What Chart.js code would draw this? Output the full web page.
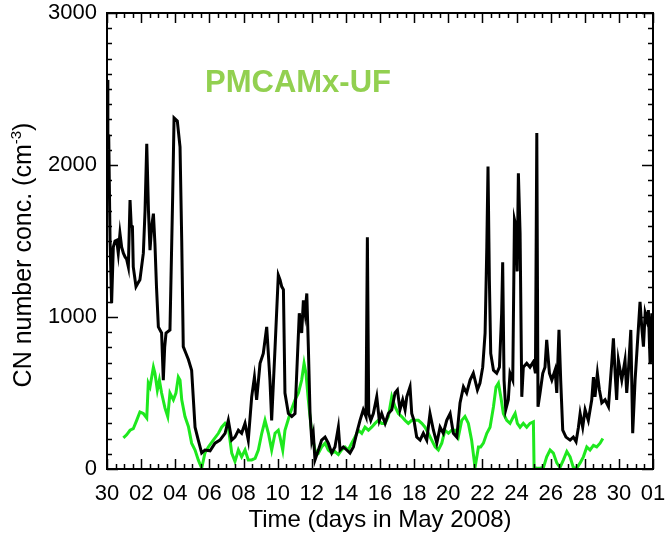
<!DOCTYPE html>
<html>
<head>
<meta charset="utf-8">
<script src="https://cdn.jsdelivr.net/npm/chart.js@4.4.1/dist/chart.umd.min.js"></script>
<style>
  html, body { margin: 0; padding: 0; background: #fff; }
  canvas { display: block; }
</style>
</head>
<body>
<canvas id="chart" width="665" height="534"></canvas>
<script>
// days since 30 April 2008, 00:00
const dayTickLabels = ['30', '02', '04', '06', '08', '10', '12', '14', '16', '18', '20', '22', '24', '26', '28', '30', '01'];
const yTickValues = [0, 1000, 2000, 3000];

// measured CN (black)
const obsDays = [0.00, 0.05, 0.10, 0.18, 0.27, 0.37, 0.47, 0.57, 0.66, 0.76, 0.86, 0.96, 1.06, 1.15, 1.25, 1.35, 1.42, 1.49, 1.54, 1.70, 1.80, 1.93,
  2.13, 2.23, 2.33, 2.43, 2.52, 2.62, 2.72, 2.81, 2.90, 3.01, 3.20, 3.30, 3.38, 3.46, 3.69, 3.85, 3.93, 4.12, 4.28, 4.38, 4.47, 4.63, 4.77, 4.96,
  5.16, 5.35, 5.55, 5.74, 6.04, 6.33, 6.62, 6.92, 7.11, 7.31, 7.50, 7.70, 7.89, 8.09, 8.28, 8.48, 8.64, 8.77, 8.97, 9.16, 9.36, 9.55, 9.65, 9.85,
  10.04, 10.14, 10.24, 10.34, 10.43, 10.63, 10.83, 11.02, 11.12, 11.27, 11.41, 11.51, 11.61, 11.71, 11.80, 11.90, 12.00, 12.09, 12.19, 12.39,
  12.58, 12.78, 12.97, 13.17, 13.36, 13.56, 13.66, 13.85, 14.05, 14.24, 14.44, 14.63, 14.83, 15.02, 15.18, 15.26, 15.34, 15.46, 15.61, 15.81,
  15.96, 16.10, 16.30, 16.49, 16.69, 16.88, 17.02, 17.17, 17.33, 17.47, 17.57, 17.76, 17.86, 17.99, 18.15, 18.35, 18.54, 18.74, 18.93, 19.13,
  19.33, 19.52, 19.71, 19.91, 20.11, 20.30, 20.50, 20.69, 20.89, 21.08, 21.28, 21.47, 21.57, 21.71, 21.86, 22.02, 22.16, 22.26, 22.33, 22.41,
  22.49, 22.65, 22.84, 23.00, 23.13, 23.19, 23.27, 23.37, 23.52, 23.62, 23.78, 23.88, 23.97, 24.04, 24.11, 24.21, 24.31, 24.40, 24.60, 24.79,
  24.99, 25.11, 25.19, 25.26, 25.38, 25.54, 25.67, 25.77, 25.93, 26.07, 26.26, 26.36, 26.49, 26.59, 26.71, 26.90, 27.14, 27.33, 27.49, 27.63,
  27.73, 27.88, 28.02, 28.21, 28.41, 28.51, 28.60, 28.74, 28.86, 29.00, 29.19, 29.39, 29.58, 29.68, 29.78, 29.87, 29.97, 30.17, 30.36, 30.46,
  30.56, 30.70, 30.81, 30.95, 31.05, 31.24, 31.34, 31.44, 31.54, 31.64, 31.73, 31.83, 31.93, 32.00];
const obsConc = [2560, 2100, 2200, 1500, 1090, 1460, 1500, 1505, 1420, 1550, 1460, 1420, 1395, 1380, 1330, 1770, 1600, 1595, 1330, 1200, 1220, 1245,
  1420, 1700, 2140, 1700, 1440, 1600, 1680, 1480, 1200, 935, 895, 585, 800, 895, 915, 1800, 2310, 2290, 2120, 1500, 805, 760, 720, 650,
  275, 190, 105, 125, 120, 170, 190, 235, 320, 190, 210, 255, 235, 300, 190, 475, 605, 455, 695, 760, 935, 585, 320, 800,
  1275, 1245, 1200, 1180, 500, 365, 345, 365, 630, 1025, 895, 1110, 1025, 1155, 805, 365, 190, 235, 60, 125,
  190, 210, 170, 105, 145, 275, 125, 145, 125, 105, 145, 235, 320, 390, 345, 1525, 365, 320, 365, 475,
  320, 365, 300, 365, 390, 500, 520, 390, 455, 390, 475, 540, 365, 320, 210, 190, 235, 190, 365, 255,
  170, 275, 235, 320, 365, 235, 210, 435, 540, 500, 585, 630, 585, 520, 565, 670, 895, 1460, 1990, 1245,
  760, 650, 630, 670, 1025, 1360, 585, 390, 455, 630, 585, 1640, 1595, 1300, 1945, 1550, 475, 670, 695, 670,
  705, 630, 2210, 410, 500, 630, 670, 850, 630, 585, 650, 500, 915, 585, 255, 210, 190, 210, 180, 275,
  365, 275, 390, 320, 455, 605, 475, 630, 520, 435, 455, 410, 695, 860, 630, 455, 715, 585, 715, 500,
  650, 915, 235, 585, 760, 1100, 935, 805, 1025, 980, 1045, 695, 1025, 700];

// PMCAMx-UF model (green)
const modelDays = [0.96, 1.15, 1.35, 1.54, 1.74, 1.93, 2.13, 2.33, 2.42, 2.52, 2.62, 2.72, 2.81, 2.95, 3.07, 3.20, 3.40, 3.56, 3.69, 3.89,
  4.04, 4.18, 4.28, 4.38, 4.57, 4.77, 4.96, 5.16, 5.35, 5.55, 5.74, 5.94, 6.23, 6.53, 6.72, 6.92, 7.11, 7.31, 7.50, 7.70,
  7.89, 8.09, 8.28, 8.48, 8.68, 8.87, 9.07, 9.26, 9.46, 9.65, 9.85, 10.04, 10.14, 10.30, 10.43, 10.73, 11.02, 11.22, 11.41, 11.55,
  11.66, 11.80, 12.00, 12.19, 12.39, 12.58, 12.78, 12.97, 13.17, 13.36, 13.56, 13.75, 13.95, 14.14, 14.34, 14.54, 14.73, 14.93, 15.12, 15.32,
  15.51, 15.71, 15.90, 16.10, 16.30, 16.49, 16.69, 16.88, 17.08, 17.27, 17.47, 17.66, 17.86, 18.05, 18.25, 18.45, 18.64, 18.83, 19.03, 19.23,
  19.42, 19.62, 19.81, 20.01, 20.20, 20.40, 20.59, 20.79, 20.98, 21.18, 21.37, 21.57, 21.77, 21.90, 22.06, 22.26, 22.45, 22.65, 22.80, 22.94,
  23.08, 23.23, 23.43, 23.62, 23.82, 23.92, 24.05, 24.21, 24.40, 24.60, 24.79, 24.99, 25.03, 25.19, 25.38, 25.58, 25.77, 25.97, 26.16, 26.36,
  26.55, 26.75, 26.95, 27.14, 27.33, 27.53, 27.73, 27.92, 28.12, 28.31, 28.51, 28.70, 28.90, 29.06];
const modelConc = [205, 225, 255, 265, 320, 375, 365, 335, 565, 540, 605, 670, 630, 520, 585, 500, 400, 345, 500, 455,
  500, 605, 585, 455, 345, 280, 170, 125, 60, 5, 105, 145, 190, 235, 275, 300, 275, 105, 50, 125,
  80, 125, 60, 60, 70, 125, 235, 320, 235, 125, 235, 255, 210, 125, 255, 365, 455, 500, 585, 695,
  630, 455, 235, 125, 105, 145, 170, 125, 105, 115, 95, 125, 145, 125, 170, 210, 255, 235, 275, 255,
  275, 300, 320, 300, 300, 345, 475, 410, 365, 345, 320, 300, 320, 320, 320, 300, 275, 235, 190, 145,
  125, 170, 255, 235, 255, 255, 210, 320, 345, 300, 190, 10, 145, 145, 170, 235, 275, 410, 540, 565,
  475, 365, 320, 300, 345, 365, 300, 275, 300, 275, 300, 310, 10, 5, 5, 10, 80, 125, 105, 40,
  10, 60, 115, 80, 10, 5, 40, 80, 145, 125, 155, 145, 170, 200];

const modelLabel = 'PMCAMx-UF';
const xTitle = 'Time (days in May 2008)';

const toPoints = (xs, ys) => xs.map((d, i) => ({ x: d, y: ys[i] }));

const FONT = '"Liberation Sans", Arial, sans-serif';

// IDL style box: frame + inward ticks on all four sides, plus the texts
const idlFrame = {
  id: 'idlFrame',
  afterDatasetsDraw(chart) {
    const { ctx, chartArea: a, scales: { x, y } } = chart;
    ctx.save();
    ctx.strokeStyle = '#000';
    ctx.lineWidth = 2;
    ctx.strokeRect(a.left, a.top, a.right - a.left, a.bottom - a.top);

    ctx.lineWidth = 1.5;
    ctx.beginPath();
    for (let d = x.min; d <= x.max; d += 0.5) {
      const px = Math.round(x.getPixelForValue(d)) + 0.5;
      const len = d % 2 === 0 ? 10 : 5;
      ctx.moveTo(px, a.bottom); ctx.lineTo(px, a.bottom - len);
      ctx.moveTo(px, a.top); ctx.lineTo(px, a.top + len);
    }
    for (let v = y.min; v <= y.max; v += 100) {
      const py = Math.round(y.getPixelForValue(v)) + 0.5;
      const len = v % 1000 === 0 ? 11 : 5;
      ctx.moveTo(a.left, py); ctx.lineTo(a.left + len, py);
      ctx.moveTo(a.right, py); ctx.lineTo(a.right - len, py);
    }
    ctx.stroke();

    // model name inside the plot
    ctx.fillStyle = '#92d050';
    ctx.font = 'bold 31px ' + FONT;
    ctx.textAlign = 'left';
    ctx.textBaseline = 'alphabetic';
    ctx.fillText(modelLabel, 205, 92);

    // x title
    ctx.fillStyle = '#000';
    ctx.font = '24px ' + FONT;
    ctx.textAlign = 'center';
    ctx.fillText(xTitle, (a.left + a.right) / 2, 527);

    // y title with superscript
    ctx.translate(31, 255);
    ctx.rotate(-Math.PI / 2);
    const main = 'CN number conc. (cm', sup = '-3', close = ')';
    ctx.font = '25px ' + FONT;
    const wMain = ctx.measureText(main).width, wClose = ctx.measureText(close).width;
    ctx.font = '15px ' + FONT;
    const wSup = ctx.measureText(sup).width;
    let cx = -(wMain + wSup + wClose) / 2;
    ctx.textAlign = 'left';
    ctx.font = '25px ' + FONT;
    ctx.fillText(main, cx, 0);
    cx += wMain;
    ctx.font = '15px ' + FONT;
    ctx.fillText(sup, cx, -10);
    cx += wSup;
    ctx.font = '25px ' + FONT;
    ctx.fillText(close, cx, 0);
    ctx.restore();
  }
};

const tickFont = { family: FONT, size: 22 };

new Chart(document.getElementById('chart'), {
  type: 'line',
  data: {
    datasets: [
      {
        label: 'Observed',
        data: toPoints(obsDays, obsConc),
        borderColor: '#000',
        borderWidth: 3,
        pointRadius: 0,
        tension: 0
      },
      {
        label: modelLabel,
        data: toPoints(modelDays, modelConc),
        borderColor: '#1ee81e',
        borderWidth: 3,
        pointRadius: 0,
        tension: 0
      }
    ]
  },
  options: {
    responsive: false,
    animation: false,
    devicePixelRatio: 1,
    layout: { padding: { top: 13, right: 12, left: 0, bottom: 0 } },
    plugins: { legend: { display: false }, tooltip: { enabled: false } },
    scales: {
      x: {
        type: 'linear',
        min: 0,
        max: 32,
        grid: { display: false, drawTicks: false },
        border: { display: false },
        afterFit: s => { s.height = 65; s.paddingLeft = 0; s.paddingRight = 0; },
        afterBuildTicks: s => { s.ticks = dayTickLabels.map((_, i) => ({ value: i * 2 })); },
        ticks: {
          autoSkip: false,
          maxRotation: 0,
          padding: 12,
          color: '#000',
          font: tickFont,
          callback: (v, i) => dayTickLabels[i]
        }
      },
      y: {
        min: 0,
        max: 3000,
        grid: { display: false, drawTicks: false },
        border: { display: false },
        afterFit: s => { s.width = 107; s.paddingTop = 0; s.paddingBottom = 0; },
        afterBuildTicks: s => { s.ticks = yTickValues.map(v => ({ value: v })); },
        ticks: {
          padding: 10,
          color: '#000',
          font: tickFont,
          callback: v => String(v)
        }
      }
    }
  },
  plugins: [idlFrame]
});
</script>
</body>
</html>
